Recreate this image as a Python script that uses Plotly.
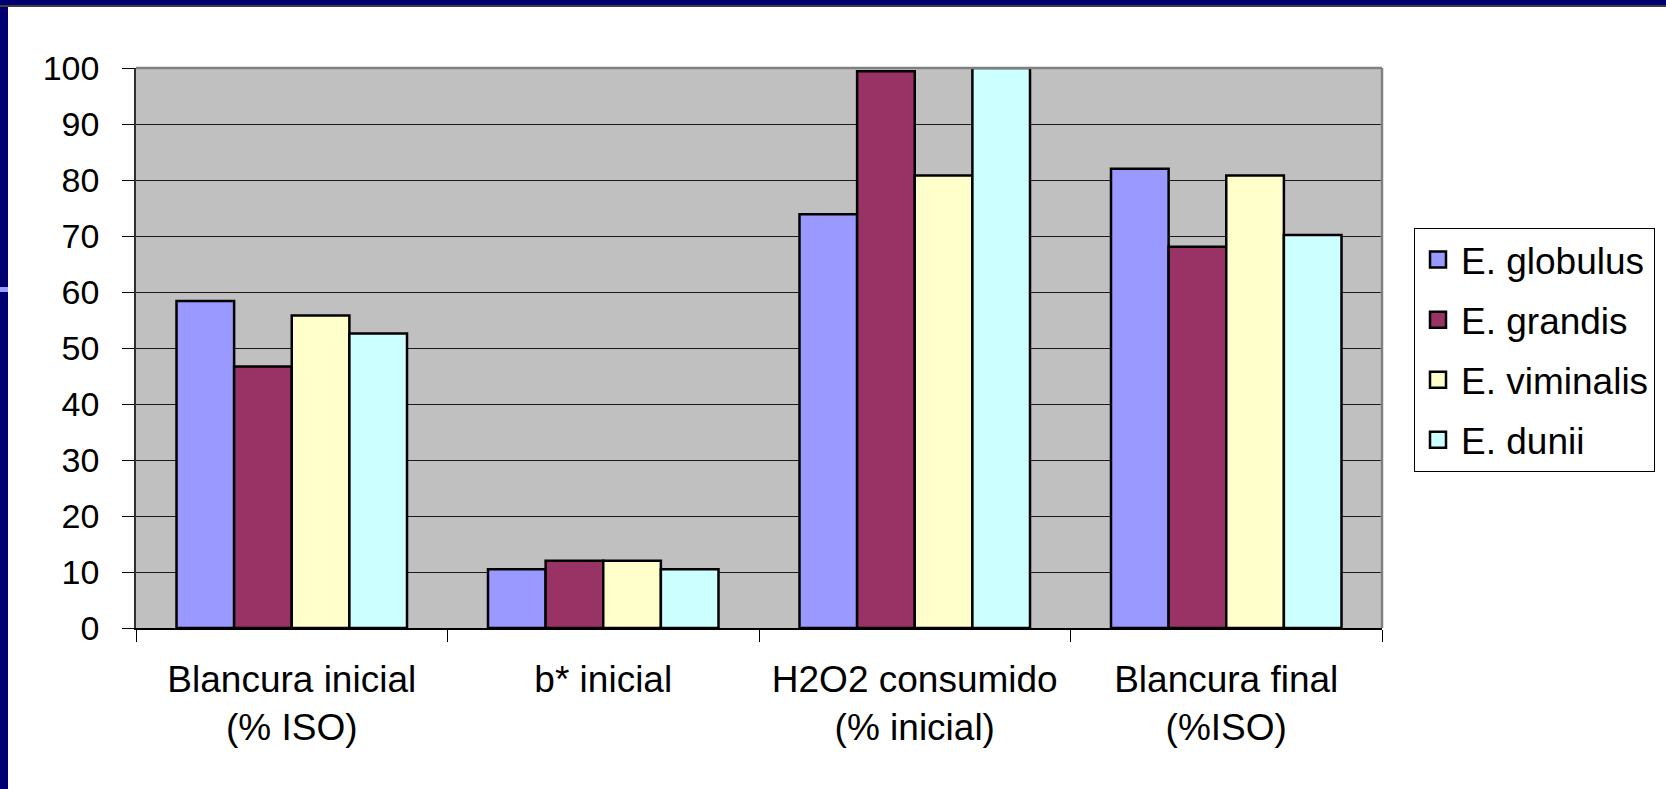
import plotly.graph_objects as go

# Data
categories = ["Blancura inicial<br>(% ISO)", "b* inicial", "H2O2 consumido<br>(% inicial)", "Blancura final<br>(%ISO)"]
species = ["E. globulus", "E. grandis", "E. viminalis", "E. dunii"]
globulus = [58.4, 10.5, 73.9, 82.0]
grandis = [46.7, 12.0, 99.4, 68.1]
viminalis = [55.8, 12.0, 80.8, 80.8]
dunii = [52.6, 10.5, 100.0, 70.2]
y_ticks = [0, 10, 20, 30, 40, 50, 60, 70, 80, 90, 100]

series = [globulus, grandis, viminalis, dunii]
colors = ["#9999FF", "#993366", "#FFFFCC", "#CCFFFF"]

W, H = 1666, 789
L, R, T, B = 136, 1382, 68, 628  # plot area in pixels
FONT = "Liberation Sans, Arial, sans-serif"


def px_x(p):
    return (p - L) / (R - L)


def px_y(p):
    return (B - p) / (B - T)


fig = go.Figure()
for i, (name, vals) in enumerate(zip(species, series)):
    fig.add_trace(go.Bar(
        x=categories, y=vals, name=name, legendgroup=f"g{i}", showlegend=False,
        marker=dict(color=colors[i], line=dict(color="black", width=2.5)),
    ))
# legend keys: larger square swatches than the default bar icon
for i, name in enumerate(species):
    fig.add_trace(go.Scatter(
        x=[None], y=[None], mode="markers", name=name, legendgroup=f"g{i}", showlegend=True,
        marker=dict(symbol="square", size=16, color=colors[i], line=dict(color="black", width=2.5)),
    ))

shapes = [
    # slide frame: navy left and top bands
    dict(type="rect", xref="paper", yref="paper", x0=px_x(0), x1=px_x(8), y0=px_y(H), y1=px_y(0),
         fillcolor="#000070", line=dict(width=0), layer="above"),
    dict(type="rect", xref="paper", yref="paper", x0=px_x(0), x1=px_x(W), y0=px_y(5), y1=px_y(0),
         fillcolor="#000070", line=dict(width=0), layer="above"),
    dict(type="line", xref="paper", yref="paper", x0=px_x(0), x1=px_x(W), y0=px_y(6), y1=px_y(6),
         line=dict(color="#404040", width=2), layer="above"),
    dict(type="rect", xref="paper", yref="paper", x0=px_x(0), x1=px_x(8), y0=px_y(292), y1=px_y(287),
         fillcolor="#99A0FF", line=dict(width=0), layer="above"),
    # plot-area border on top and right
    dict(type="line", xref="paper", yref="paper", x0=0, x1=1, y0=1, y1=1,
         line=dict(color="#808080", width=2.5), layer="above"),
    dict(type="line", xref="paper", yref="paper", x0=1, x1=1, y0=0, y1=1,
         line=dict(color="#808080", width=2.5), layer="above"),
]

fig.update_layout(
    width=W, height=H,
    margin=dict(l=L, r=W - R, t=T, b=H - B, autoexpand=False),
    paper_bgcolor="white", plot_bgcolor="#C0C0C0",
    barmode="group", bargap=0.26, bargroupgap=0,
    font=dict(family=FONT, size=34, color="black"),
    showlegend=True,
    legend=dict(
        x=px_x(1414), y=px_y(228), xanchor="left", yanchor="top",
        bgcolor="white", bordercolor="black", borderwidth=1,
        font=dict(family=FONT, size=37, color="black"),
        tracegroupgap=9, traceorder="grouped", itemwidth=36,
    ),
    shapes=shapes,
)
fig.update_xaxes(
    type="category", tickson="boundaries", ticks="outside", ticklen=12, tickwidth=1, tickcolor="black",
    showline=True, linecolor="black", linewidth=1.5, showgrid=False,
    tickfont=dict(family=FONT, size=37, color="black"), ticklabelstandoff=18,
)
fig.update_yaxes(
    range=[0, 100], tickvals=y_ticks, ticks="outside", ticklen=12, tickwidth=1, tickcolor="black",
    showline=True, linecolor="#303030", linewidth=1.5,
    showgrid=True, gridcolor="#1a1a1a", gridwidth=1, zeroline=False,
    tickfont=dict(family=FONT, size=34, color="black"), ticklabelstandoff=16,
)

fig.write_html("out.html")
